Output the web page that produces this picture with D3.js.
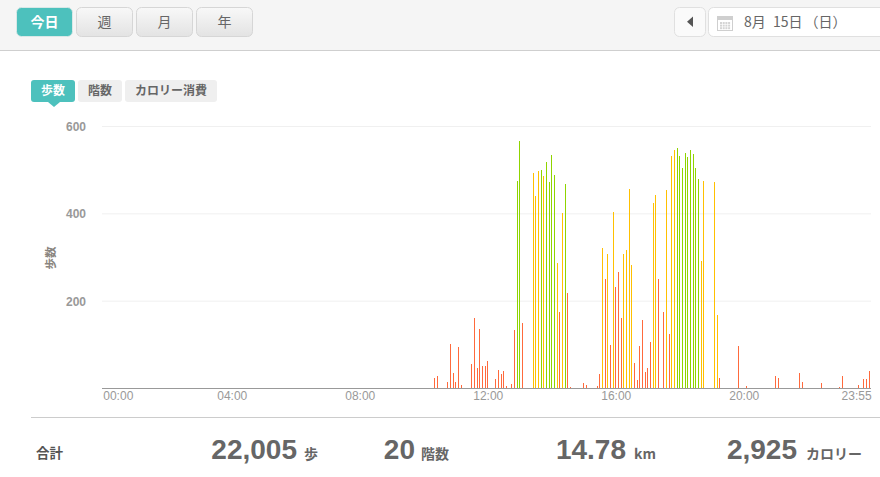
<!DOCTYPE html>
<html>
<head>
    <meta charset="utf-8">
    <title>Steps</title>
    <script src="https://cdnjs.cloudflare.com/ajax/libs/d3/7.8.5/d3.min.js"></script>
    <style>
        html, body { margin: 0; padding: 0; background: #fff; overflow: hidden; }
        svg { display: block; }
        text { font-family: "Noto Sans CJK JP", "Liberation Sans", sans-serif; }
        .tick text, .latin { font-family: "Liberation Sans", sans-serif; }
    </style>
</head>
<body>
<script type="text/javascript">
    // 5 minute slots, 0 = 00:00, 287 = 23:55
    var slots = [70, 124, 125, 129, 130, 131, 132, 133, 134, 138, 139, 140, 141, 142, 143, 144, 147, 148, 149, 150, 151,
        153, 154, 155, 156, 157, 161, 162, 163, 164, 165, 166, 167, 168, 169, 170, 171, 172, 173, 174, 175,
        180, 181, 185, 186, 187, 188, 189, 190, 191, 192, 193, 194, 195, 196, 197, 198, 199, 200, 201, 202,
        203, 204, 205, 206, 207, 208, 210, 211, 212, 213, 214, 215, 216, 217, 218, 219, 220, 221, 222, 223,
        224, 225, 229, 230, 231, 238, 241, 252, 253, 261, 262, 269, 276, 277, 283, 285, 286, 287];
    var steps = [2, 24, 28, 14, 101, 35, 14, 95, 8, 56, 161, 47, 136, 51, 51, 63, 21, 42, 33, 40, 5,
        10, 134, 475, 566, 150, 493, 440, 497, 500, 486, 518, 472, 534, 488, 287, 175, 401, 468, 218, 3,
        12, 8, 5, 33, 321, 250, 307, 99, 404, 232, 266, 161, 307, 317, 456, 282, 58, 19, 97, 156,
        37, 47, 106, 424, 443, 250, 175, 454, 124, 532, 546, 550, 532, 504, 539, 530, 546, 536, 504, 479,
        291, 475, 472, 168, 24, 97, 5, 28, 24, 35, 14, 12, 3, 28, 8, 21, 21, 40];
    // activity zone of each bar: 0 light, 1 moderate, 2 very active
    var zones = [0, 0, 0, 0, 0, 0, 0, 0, 0, 0, 0, 0, 0, 0, 0, 0, 0, 0, 0, 0, 0,
        0, 0, 2, 2, 0, 1, 1, 1, 2, 1, 2, 2, 2, 2, 1, 0, 1, 2, 0, 0,
        0, 0, 0, 0, 1, 0, 1, 0, 1, 0, 0, 0, 1, 1, 1, 1, 0, 0, 0, 0,
        0, 0, 0, 1, 1, 0, 0, 1, 0, 1, 1, 2, 2, 2, 2, 2, 2, 2, 2, 2,
        1, 1, 1, 1, 0, 0, 0, 0, 0, 0, 0, 0, 0, 0, 0, 0, 0, 0];
    var yTicks = [200, 400, 600];
    var xTickSlots = [0, 48, 96, 144, 192, 240, 287];
    var xTickLabels = ["00:00", "04:00", "08:00", "12:00", "16:00", "20:00", "23:55"];
    var zoneColors = ["#ff6a3c", "#ffc000", "#8fd400"];
    var periods = ["今日", "週", "月", "年"];
    var tabs = [{label: "歩数", x: 31, w: 44}, {label: "階数", x: 78, w: 44}, {label: "カロリー消費", x: 125, w: 92}];

    var width = 880, height = 477;
    var svg = d3.select("body").append("svg")
        .attr("width", width)
        .attr("height", height);

    var defs = svg.append("defs");
    var grad = defs.append("linearGradient").attr("id", "btn").attr("x1", 0).attr("y1", 0).attr("x2", 0).attr("y2", 1);
    grad.append("stop").attr("offset", "0%").attr("stop-color", "#f8f8f8");
    grad.append("stop").attr("offset", "100%").attr("stop-color", "#e3e3e3");

    // header bar
    svg.append("rect").attr("width", width).attr("height", 50).attr("fill", "#f5f5f5");
    svg.append("rect").attr("y", 50).attr("width", width).attr("height", 1).attr("fill", "#cfcfcf");

    periods.forEach(function(p, i){
        svg.append("rect")
            .attr("x", 16.5 + i * 60).attr("y", 7.5)
            .attr("width", 56).attr("height", 29).attr("rx", 5)
            .attr("fill", i == 0 ? "#4dc1bd" : "url(#btn)")
            .attr("stroke", i == 0 ? "#d9e8e7" : "#d6d6d6");
        svg.append("text")
            .attr("x", 44.5 + i * 60).attr("y", 26.5)
            .attr("text-anchor", "middle")
            .attr("font-size", 14)
            .attr("font-weight", i == 0 ? 700 : 400)
            .attr("fill", i == 0 ? "#fff" : "#666")
            .text(p);
    });

    // date picker
    svg.append("rect").attr("x", 674.5).attr("y", 7.5).attr("width", 31).attr("height", 29).attr("rx", 5)
        .attr("fill", "#fafafa").attr("stroke", "#e0e0e0");
    svg.append("path").attr("d", "M693 16.5V27L687 21.7Z").attr("fill", "#555");
    svg.append("rect").attr("x", 708.5).attr("y", 7.5).attr("width", 190).attr("height", 29).attr("rx", 5)
        .attr("fill", "#fff").attr("stroke", "#e0e0e0");
    var cal = svg.append("g").attr("transform", "translate(717,15)");
    cal.append("rect").attr("x", 0.5).attr("y", 1.5).attr("width", 15).attr("height", 14).attr("fill", "#fff").attr("stroke", "#cfcfcf");
    cal.append("rect").attr("x", 0).attr("y", 1).attr("width", 16).attr("height", 4).attr("fill", "#cfcfcf");
    d3.range(12).forEach(function(i){
        cal.append("rect").attr("x", 3 + (i % 4) * 2.7).attr("y", 7 + Math.floor(i / 4) * 2.6)
            .attr("width", 2).attr("height", 2).attr("fill", "#d4d4d4");
    });
    var dateText = svg.append("text").attr("x", 744).attr("y", 26.5)
        .attr("font-size", 14).attr("fill", "#666").attr("word-spacing", 4);
    dateText.append("tspan").text("8月 15日");
    dateText.append("tspan").attr("dx", 2).text("（日）");

    // tabs
    tabs.forEach(function(t, i){
        svg.append("rect").attr("x", t.x).attr("y", 80).attr("width", t.w).attr("height", 22).attr("rx", 3)
            .attr("fill", i == 0 ? "#4dc1bd" : "#efefef");
        svg.append("text").attr("x", t.x + t.w / 2).attr("y", 95)
            .attr("text-anchor", "middle").attr("font-size", 12).attr("font-weight", 700)
            .attr("fill", i == 0 ? "#fff" : "#666").text(t.label);
    });
    svg.append("path").attr("d", "M48 102H60L54 107Z").attr("fill", "#4dc1bd");

    // chart
    var x = d3.scaleLinear().domain([0, 287]).range([103.77, 869.1]);
    var y = d3.scaleLinear().domain([0, 600]).range([388.5, 126.5]);

    var grid = svg.append("g");
    grid.selectAll("line").data(yTicks).enter().append("line")
        .attr("x1", 102).attr("x2", 871)
        .attr("y1", function(d){ return y(d); })
        .attr("y2", function(d){ return y(d); })
        .attr("stroke", "#f0f0f0");

    svg.append("g").selectAll("rect").data(slots).enter().append("rect")
        .attr("x", function(d){ return Math.floor(x(d)); })
        .attr("width", 1)
        .attr("y", function(d, i){ return Math.round(y(steps[i])); })
        .attr("height", function(d, i){ return 388 - Math.round(y(steps[i])); })
        .attr("fill", function(d, i){ return zoneColors[zones[i]]; });

    var yAxis = d3.axisLeft(y).tickValues(yTicks).tickSize(0).tickPadding(0);
    var yg = svg.append("g").attr("transform", "translate(86,0)").call(yAxis);
    yg.select(".domain").remove();
    yg.selectAll("text").attr("font-size", 12).attr("font-weight", 700).attr("fill", "#999");

    var xAxis = d3.axisBottom(x)
        .tickValues(xTickSlots)
        .tickSize(0)
        .tickPadding(0)
        .tickFormat(function(d, i){ return xTickLabels[i]; });
    var xg = svg.append("g").attr("transform", "translate(0,391)").call(xAxis);
    xg.select(".domain").remove();
    xg.selectAll("text")
        .attr("font-size", 12)
        .attr("fill", "#999")
        .attr("text-anchor", function(d, i){ return i == 0 ? "start" : i == 6 ? "end" : "middle"; })
        .attr("dx", function(d, i){ return i == 0 ? -1 : i == 6 ? 2 : 0; });

    svg.append("rect").attr("x", 102).attr("y", 388).attr("width", 769).attr("height", 1).attr("fill", "#999");

    svg.append("text")
        .attr("transform", "translate(55,258) rotate(-90)")
        .attr("text-anchor", "middle").attr("font-size", 11.5).attr("font-weight", 700)
        .attr("fill", "#8a8580").text("歩数");

    // totals
    svg.append("rect").attr("x", 31).attr("y", 417).attr("width", 849).attr("height", 1).attr("fill", "#ccc");
    svg.append("text").attr("x", 36).attr("y", 458).attr("font-size", 13.5).attr("font-weight", 700).attr("fill", "#555").text("合計");

    var totalValues = ["22,005", "20", "14.78", "2,925"];
    var totalUnits = ["歩", "階数", "km", "カロリー"];
    var totalValueEnds = [297, 415, 626, 797];
    var totalUnitStarts = [304, 421, 634, 806];
    totalValues.forEach(function(v, i){
        svg.append("text").attr("class", "latin")
            .attr("x", totalValueEnds[i]).attr("y", 459)
            .attr("text-anchor", "end")
            .attr("font-size", 28).attr("font-weight", 700).attr("fill", "#666").text(v);
        svg.append("text")
            .attr("x", totalUnitStarts[i]).attr("y", 459)
            .attr("font-size", 14).attr("font-weight", 700).attr("fill", "#666").text(totalUnits[i]);
    });
</script>
</body>
</html>
